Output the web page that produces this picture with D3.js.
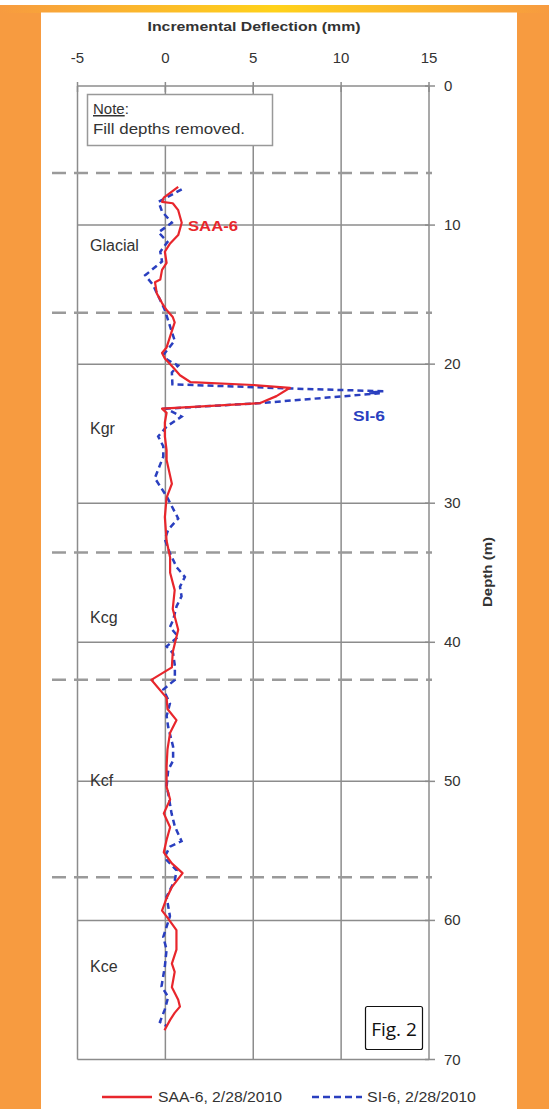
<!DOCTYPE html>
<html>
<head>
<meta charset="utf-8">
<script src="https://cdn.jsdelivr.net/npm/d3@7"></script>
<style>
  body { margin: 0; background: #fff; }
  svg { display: block; font-family: "Liberation Sans", Arial, sans-serif; }
</style>
</head>
<body>
<div id="chart"></div>
<script>
// Data (depth in m, incremental deflection in mm)
var saaDepth = [7.25, 8.03, 8.33, 8.43, 8.93, 9.83, 10.72, 11.32, 11.92, 12.72, 13.22, 13.91, 14.11, 14.91, 15.61, 16.11, 16.61, 17.0,
  18.0, 18.8, 19.2, 19.6, 20.2, 20.8, 21.3, 21.5, 21.7, 22.3, 22.8, 23.2, 23.5, 24.2, 25.2, 26.2, 26.9, 28.6, 29.6, 31.0, 32.7,
  33.9, 35.0, 36.25, 37.6, 39.1, 40.7, 41.8, 42.7, 44.0, 44.8, 45.6, 46.5, 47.7, 48.9, 50.4, 51.3, 52.3, 53.3, 54.2, 55.1, 55.9,
  56.6, 57.6, 58.4, 59.3, 59.8, 60.7, 62.1, 63.1, 63.7, 64.8, 65.7, 66.2, 66.65, 67.15, 67.9];
var saaValue = [0.73, -0.09, -0.19, 0.42, 0.73, 0.93, 0.73, 0.27, -0.03, 0.07, -0.19, -0.29, -0.59, -0.49, -0.19, 0.07, 0.42, 0.53,
  0.27, 0.07, -0.19, -0.03, 0.42, 0.83, 1.44, 5.0, 7.09, 6.32, 5.4, -0.19, 0.07, -0.03, -0.03, 0.07, 0.07, 0.37, 0.07, -0.03, 0.07,
  0.27, 0.27, 0.53, 0.42, 0.73, 0.42, 0.37, -0.8, 0.07, 0.12, 0.63, 0.27, 0.12, 0.07, 0.07, 0.27, -0.09, 0.27, 0.07, -0.09, 0.37,
  0.98, 0.37, 0.07, -0.19, 0.12, 0.63, 0.63, 0.37, 0.53, 0.37, 0.73, 0.83, 0.53, 0.27, -0.05];

var siDepth = [7.43, 8.33, 9.03, 9.83, 10.52, 11.22, 11.92, 12.62, 13.61, 14.31, 15.41, 16.11, 17.3, 18.3, 19.3, 19.7, 20.1, 20.6,
  21.45, 21.75, 21.95, 22.05, 22.1, 22.25, 22.8, 23.2, 23.77, 24.49, 25.2, 25.9, 26.65, 28.2, 29.5, 31.1, 31.9, 32.6, 33.6, 34.6,
  35.3, 36.0, 36.7, 37.4, 38.4, 38.9, 39.6, 40.3, 40.8, 41.7, 42.7, 43.4, 44.4, 45.3, 46.1, 47.5, 48.5, 49.2, 50.4, 50.85, 52.3,
  53.25, 54.3, 54.7, 55.4, 55.65, 56.4, 57.1, 58.3, 59.7, 61.2, 62.1, 63.3, 64.75, 65.5, 66.4, 67.3, 67.6];
var siValue = [0.93, -0.39, -0.19, 0.37, -0.39, 0.12, -0.29, -0.19, -1.15, -0.7, -0.29, -0.03, 0.27, 0.53, -0.09, 0.12, 0.73, 0.37,
  0.4, 7.1, 12.4, 11.6, 12.2, 10.7, 5.4, 0.05, 0.92, 0.07, -0.41, -0.12, -0.12, -0.6, 0.07, 0.73, 0.16, -0.03, 0.26, 0.64,
  1.11, 0.83, 0.92, 0.64, 0.44, 0.26, 0.73, 0.07, 0.44, 0.54, 0.54, -0.12, 0.26, 0.07, 0.16, 0.44, 0.44, 0.16, 0.07, 0.16, 0.35,
  0.54, 0.92, 0.26, -0.03, 0.07, 0.64, 0.54, 0.07, 0.26, -0.12, 0.07, -0.03, -0.22, 0.16, -0.03, -0.31, 0.07];

var xTicks = [-5, 0, 5, 10, 15];
var yTicks = [0, 10, 20, 30, 40, 50, 60, 70];
var boundaryDepths = [6.25, 16.3, 33.55, 42.7, 56.9];
var units = ["Glacial", "Kgr", "Kcg", "Kcf", "Kce"];
var unitDepths = [11.4, 24.6, 38.2, 49.9, 63.3];

var width = 549, height = 1109;

var svg = d3.select("#chart").append("svg")
  .attr("width", width)
  .attr("height", height);

// Frame: orange sides, yellow stripe on top, white panel
var defs = svg.append("defs");
var grad = defs.append("linearGradient").attr("id", "topband");
grad.append("stop").attr("offset", "0%").attr("stop-color", "#f79b40");
grad.append("stop").attr("offset", "50%").attr("stop-color", "#ffd21a");
grad.append("stop").attr("offset", "100%").attr("stop-color", "#f79b40");

svg.append("rect").attr("x", 0).attr("y", 0).attr("width", width).attr("height", height).attr("fill", "#f79b40");
svg.append("rect").attr("x", 0).attr("y", 0).attr("width", width).attr("height", 5).attr("fill", "#fff");
svg.append("rect").attr("x", 0).attr("y", 5).attr("width", width).attr("height", 8).attr("fill", "url(#topband)");
svg.append("rect").attr("x", 41).attr("y", 12.5).attr("width", 476).attr("height", height - 12.5).attr("fill", "#fff");

var x = d3.scaleLinear().domain([-5, 15]).range([77.5, 429]);
var y = d3.scaleLinear().domain([0, 70]).range([86, 1059.5]);

var gridColor = "#8c8c8c";

// Grid
svg.append("g").selectAll("line.v")
  .data(xTicks)
  .enter().append("line")
    .attr("x1", function(d) { return x(d); })
    .attr("x2", function(d) { return x(d); })
    .attr("y1", y(0))
    .attr("y2", y(70))
    .attr("stroke", gridColor)
    .attr("stroke-width", 1.5);

svg.append("g").selectAll("line.h")
  .data(yTicks)
  .enter().append("line")
    .attr("x1", x(-5))
    .attr("x2", x(15))
    .attr("y1", function(d) { return y(d); })
    .attr("y2", function(d) { return y(d); })
    .attr("stroke", gridColor)
    .attr("stroke-width", 1.5);

// Top axis ticks and labels
svg.append("g").selectAll("line")
  .data(xTicks)
  .enter().append("line")
    .attr("x1", function(d) { return x(d); })
    .attr("x2", function(d) { return x(d); })
    .attr("y1", y(0) - 4)
    .attr("y2", y(0) + 6)
    .attr("stroke", gridColor)
    .attr("stroke-width", 1.5);

svg.append("g").selectAll("text")
  .data(xTicks)
  .enter().append("text")
    .attr("x", function(d) { return x(d); })
    .attr("y", 63)
    .attr("text-anchor", "middle")
    .attr("font-size", 15)
    .attr("fill", "#333")
    .text(function(d) { return d; });

// Right axis ticks and labels
svg.append("g").selectAll("line")
  .data(yTicks)
  .enter().append("line")
    .attr("x1", x(15) - 4)
    .attr("x2", x(15) + 6)
    .attr("y1", function(d) { return y(d); })
    .attr("y2", function(d) { return y(d); })
    .attr("stroke", gridColor)
    .attr("stroke-width", 1.5);

svg.append("g").selectAll("text")
  .data(yTicks)
  .enter().append("text")
    .attr("x", 444)
    .attr("y", function(d) { return y(d) + 5; })
    .attr("font-size", 15)
    .attr("fill", "#333")
    .text(function(d) { return d; });

// Axis titles
svg.append("text")
  .attr("x", 254)
  .attr("y", 31)
  .attr("text-anchor", "middle")
  .attr("font-size", 13)
  .attr("font-weight", "bold")
  .attr("fill", "#333")
  .attr("textLength", 213)
  .attr("lengthAdjust", "spacingAndGlyphs")
  .text("Incremental Deflection (mm)");

svg.append("text")
  .attr("transform", "translate(492,572) rotate(-90)")
  .attr("text-anchor", "middle")
  .attr("font-size", 13)
  .attr("font-weight", "bold")
  .attr("fill", "#333")
  .attr("textLength", 70)
  .attr("lengthAdjust", "spacingAndGlyphs")
  .text("Depth (m)");

// Unit boundaries
svg.append("g").selectAll("line")
  .data(boundaryDepths)
  .enter().append("line")
    .attr("x1", 52)
    .attr("x2", 432)
    .attr("y1", function(d) { return y(d); })
    .attr("y2", function(d) { return y(d); })
    .attr("stroke", "#9a9a9a")
    .attr("stroke-width", 2.5)
    .attr("stroke-dasharray", "14,8");

// Unit names
svg.append("g").selectAll("text")
  .data(units)
  .enter().append("text")
    .attr("x", 90)
    .attr("y", function(d, i) { return y(unitDepths[i]) + 6; })
    .attr("font-size", 16)
    .attr("fill", "#333")
    .text(function(d) { return d; });

// Note box
svg.append("rect")
  .attr("x", 87.5).attr("y", 94.5)
  .attr("width", 185).attr("height", 51)
  .attr("fill", "#fff")
  .attr("stroke", "#999")
  .attr("stroke-width", 1.5);
svg.append("text")
  .attr("x", 93).attr("y", 114)
  .attr("font-size", 15).attr("fill", "#333")
  .html('<tspan text-decoration="underline">Note</tspan>:');
svg.append("text")
  .attr("x", 93).attr("y", 134)
  .attr("font-size", 15).attr("fill", "#333")
  .attr("textLength", 152).attr("lengthAdjust", "spacingAndGlyphs")
  .text("Fill depths removed.");

// Profiles
var line = d3.line()
  .x(function(d) { return x(d[1]); })
  .y(function(d) { return y(d[0]); });

var siData = d3.zip(siDepth, siValue);
var saaData = d3.zip(saaDepth, saaValue);

svg.append("path")
  .datum(siData)
  .attr("fill", "none")
  .attr("stroke", "#2a3fbf")
  .attr("stroke-width", 2.5)
  .attr("stroke-dasharray", "6,4")
  .attr("d", line);

svg.append("path")
  .datum(saaData)
  .attr("fill", "none")
  .attr("stroke", "#e8262c")
  .attr("stroke-width", 2.2)
  .attr("stroke-linejoin", "round")
  .attr("d", line);

// Series labels
svg.append("text")
  .attr("x", 188).attr("y", 231)
  .attr("font-size", 15).attr("font-weight", "bold")
  .attr("fill", "#e8262c")
  .attr("textLength", 50).attr("lengthAdjust", "spacingAndGlyphs")
  .text("SAA-6");
svg.append("text")
  .attr("x", 353).attr("y", 421)
  .attr("font-size", 15).attr("font-weight", "bold")
  .attr("fill", "#2a3fbf")
  .attr("textLength", 32).attr("lengthAdjust", "spacingAndGlyphs")
  .text("SI-6");

// Fig. 2 box
svg.append("rect")
  .attr("x", 365.5).attr("y", 1006.5)
  .attr("width", 57).attr("height", 43)
  .attr("rx", 2)
  .attr("fill", "#fff")
  .attr("stroke", "#111")
  .attr("stroke-width", 1.2);
svg.append("text")
  .attr("x", 394).attr("y", 1036)
  .attr("text-anchor", "middle")
  .attr("font-family", "'Open Sans', 'Noto Sans', sans-serif")
  .attr("font-size", 19)
  .attr("fill", "#111")
  .text("Fig. 2");

// Legend
var legend = svg.append("g").attr("transform", "translate(0,1097)");
legend.append("line")
  .attr("x1", 102).attr("x2", 152).attr("y1", 0).attr("y2", 0)
  .attr("stroke", "#e8262c").attr("stroke-width", 2.5);
legend.append("text")
  .attr("x", 158).attr("y", 5)
  .attr("font-size", 14).attr("fill", "#333")
  .attr("textLength", 124).attr("lengthAdjust", "spacingAndGlyphs")
  .text("SAA-6, 2/28/2010");
legend.append("line")
  .attr("x1", 312).attr("x2", 362).attr("y1", 0).attr("y2", 0)
  .attr("stroke", "#2a3fbf").attr("stroke-width", 2.5)
  .attr("stroke-dasharray", "7,4");
legend.append("text")
  .attr("x", 367).attr("y", 5)
  .attr("font-size", 14).attr("fill", "#333")
  .attr("textLength", 109).attr("lengthAdjust", "spacingAndGlyphs")
  .text("SI-6, 2/28/2010");
</script>
</body>
</html>
